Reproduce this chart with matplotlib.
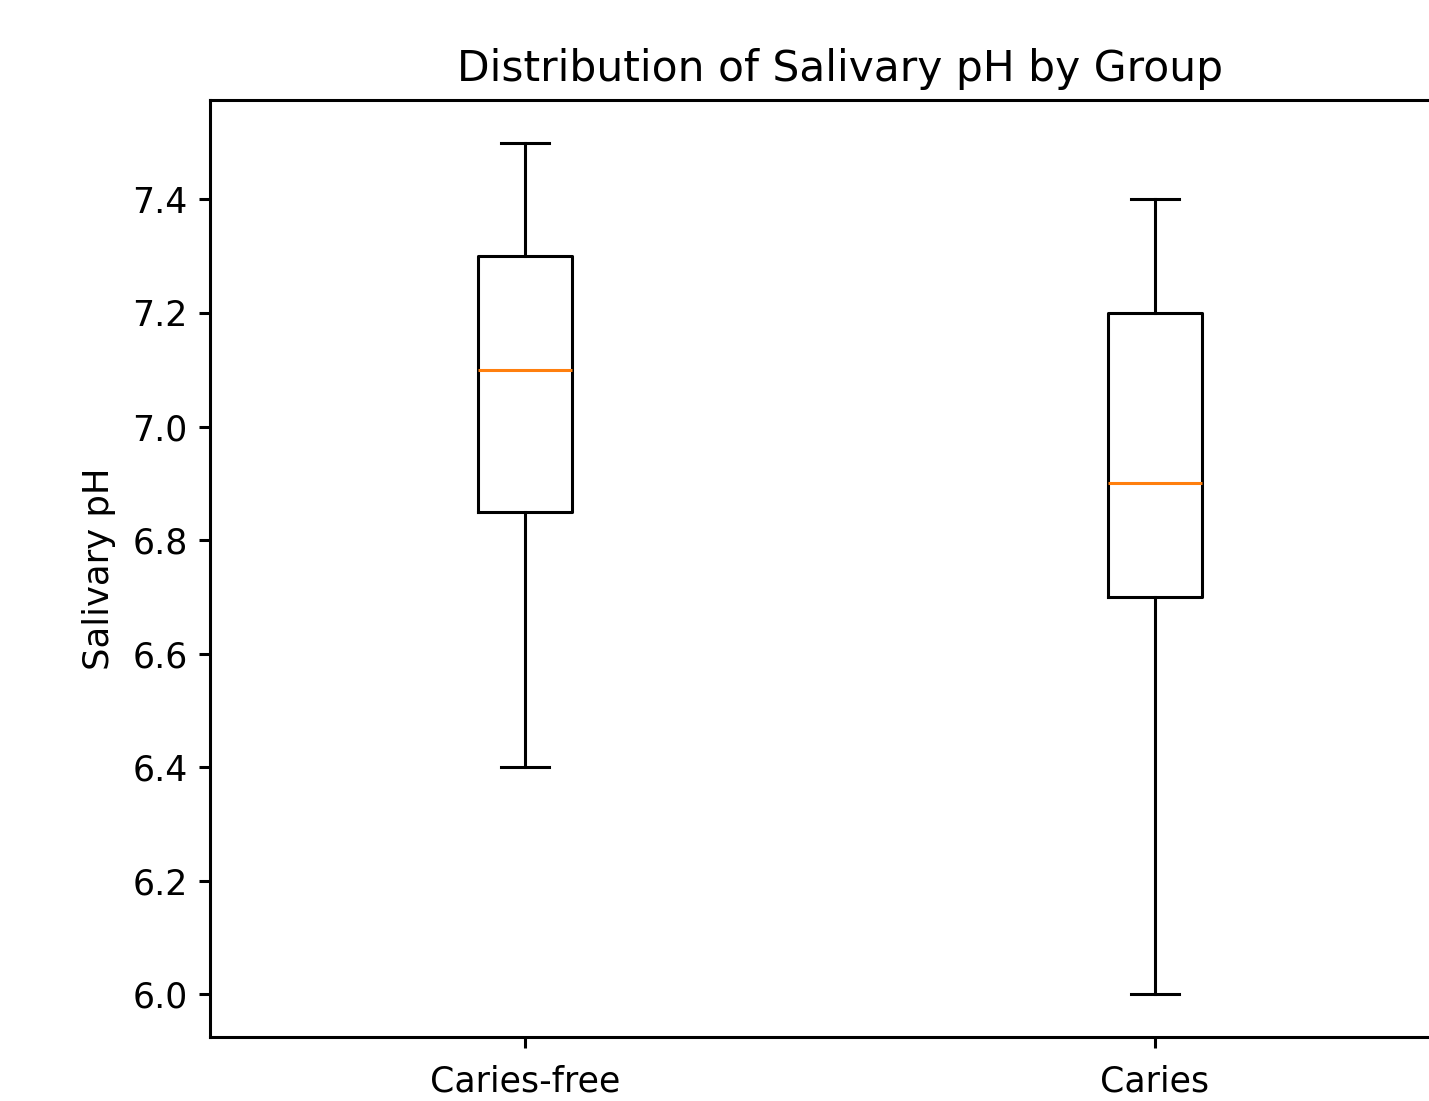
import matplotlib
matplotlib.use("Agg")
import matplotlib.pyplot as plt

# group summary values
groups = ["Caries-free", "Caries"]
whisker_low = [6.4, 6.0]
q1 = [6.85, 6.7]
median = [7.1, 6.9]
q3 = [7.3, 7.2]
whisker_high = [7.5, 7.4]

stats = []
for i, name in enumerate(groups):
    stats.append({
        "label": name,
        "whislo": whisker_low[i],
        "q1": q1[i],
        "med": median[i],
        "q3": q3[i],
        "whishi": whisker_high[i],
        "fliers": [],
    })

lw = 2.2
plt.rcParams['font.family'] = ['DejaVu Sans']

fig = plt.figure(figsize=(14.29, 11.01), dpi=100)
# axes run past the right edge, like the cropped original
ax = fig.add_axes([210 / 1429, 64 / 1101, 1260 / 1429, 937 / 1101])

ax.bxp(stats, showfliers=False,
       boxprops=dict(linewidth=lw),
       whiskerprops=dict(linewidth=lw),
       capprops=dict(linewidth=lw),
       medianprops=dict(linewidth=lw, color='#ff7f0e'))

ax.set_title("Distribution of Salivary pH by Group", fontsize=30.5, pad=14)
ax.set_ylabel("Salivary pH", fontsize=25.5, labelpad=12)
ax.tick_params(labelsize=25, length=8, width=lw, pad=8)
ax.tick_params(axis='x', pad=12)
for s in ax.spines.values():
    s.set_linewidth(lw)

fig.savefig("out.png", dpi=100)
